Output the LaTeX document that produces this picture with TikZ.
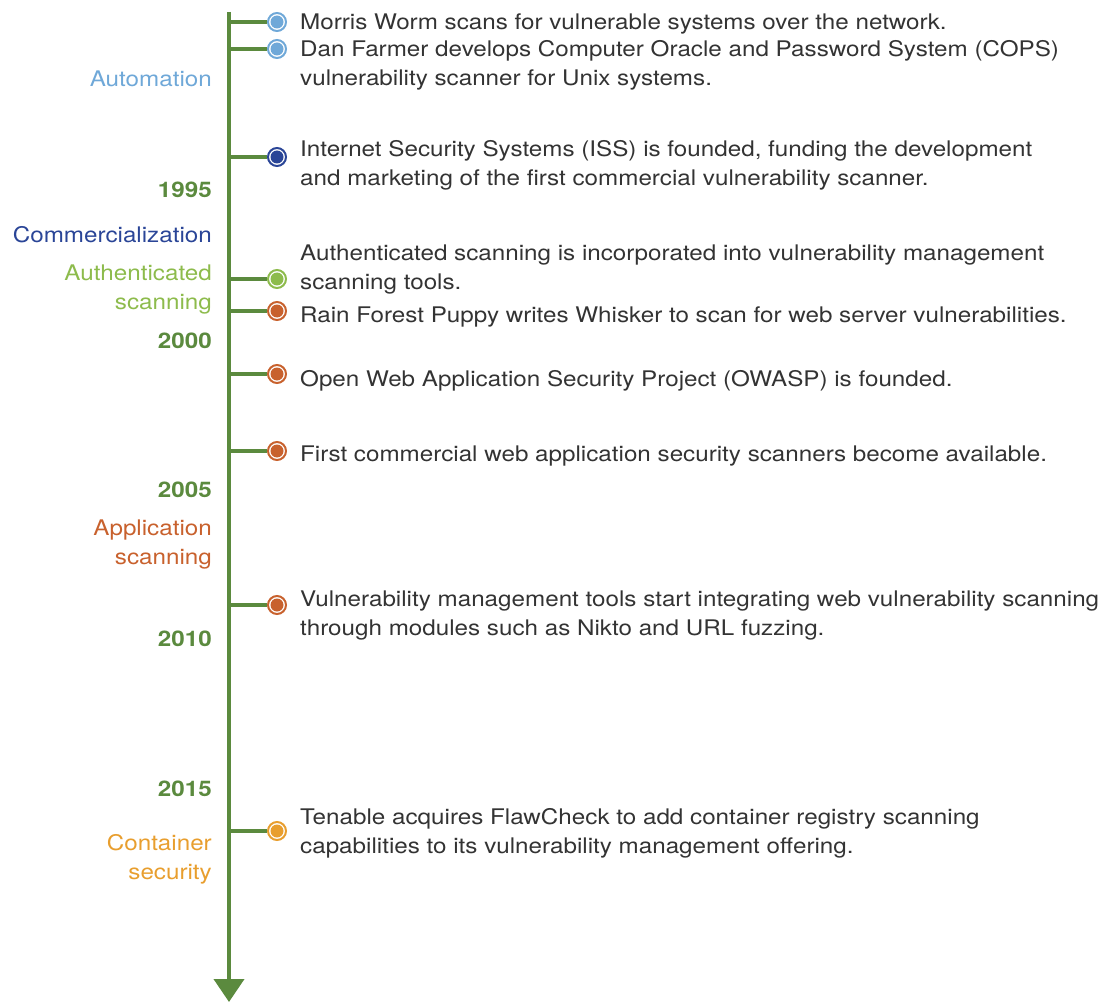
\documentclass[tikz,border=0pt]{standalone}
\usepackage{fontspec}
\setmainfont[FakeStretch=1.126]{TeX Gyre Heros}
\usetikzlibrary{arrows.meta}
\definecolor{axisgreen}{HTML}{5B8A3E}
\definecolor{cLB}{HTML}{6FA8D8}
\definecolor{cDB}{HTML}{2A4597}
\definecolor{cLG}{HTML}{8DBB4C}
\definecolor{cOR}{HTML}{C8612D}
\definecolor{cYE}{HTML}{E89E2E}
\definecolor{txt}{HTML}{333333}
\tikzset{
  axisline/.style={line width=4pt, draw=axisgreen, -{Triangle[width=30pt,length=23pt]}},
  branch/.style={line width=4pt, draw=axisgreen},
  marker/.style={circle, draw=#1, line width=2pt, fill=white, minimum size=18pt, inner sep=0pt,
    path picture={\fill[#1] (path picture bounding box.center) circle (6.5pt);}},
  evtext/.style={anchor=base west, inner sep=0pt, text=txt, font=\fontsize{21.5}{29}\selectfont},
  lbl/.style={anchor=base east, inner sep=0pt, text=#1, font=\fontsize{21.5}{29}\selectfont},
  yr/.style={anchor=base east, inner sep=0pt, text=axisgreen, font=\bfseries\fontsize{21.5}{29}\selectfont},
}
\begin{document}
\begin{tikzpicture}[x=1pt,y=-1pt]
\useasboundingbox (0,0) rectangle (1109,1003);
\coordinate (top) at (229,12);
\coordinate (bot) at (229,1002);
\draw[axisline] (top) -- (bot);
% markers
\node[marker=cLB] (m1) at (277,22) {};
\node[marker=cLB] (m2) at (277,49) {};
\node[marker=cDB] (m3) at (277,157) {};
\node[marker=cLG] (m4) at (277,279) {};
\node[marker=cOR] (m5) at (277,311) {};
\node[marker=cOR] (m6) at (277,374) {};
\node[marker=cOR] (m7) at (277,451) {};
\node[marker=cOR] (m8) at (277,605) {};
\node[marker=cYE] (m9) at (277,831) {};
% branch start points
\foreach \i/\y in {1/22,2/49,3/157,4/279,5/311,6/374,7/451,8/605,9/831}{
  \coordinate (b\i) at (227,\y);
  \draw[branch] (b\i) -- (m\i.west);
}
% event texts
\node[evtext] (e1) at (300,30) {Morris Worm scans for vulnerable systems over the network.};
\node[evtext] (e2) at (300,57) {Dan Farmer develops Computer Oracle and Password System (COPS)};
\node[evtext] (e2b) at (300,86) {vulnerability scanner for Unix systems.};
\node[evtext] (e3) at (300,157) {Internet Security Systems (ISS) is founded, funding the development};
\node[evtext] (e3b) at (300,186) {and marketing of the first commercial vulnerability scanner.};
\node[evtext] (e4) at (300,261) {Authenticated scanning is incorporated into vulnerability management};
\node[evtext] (e4b) at (300,290) {scanning tools.};
\node[evtext] (e5) at (300,322) {Rain Forest Puppy writes Whisker to scan for web server vulnerabilities.};
\node[evtext] (e6) at (300,386) {Open Web Application Security Project (OWASP) is founded.};
\node[evtext] (e7) at (300,461) {First commercial web application security scanners become available.};
\node[evtext] (e8) at (300,606) {Vulnerability management tools start integrating web vulnerability scanning};
\node[evtext] (e8b) at (300,635) {through modules such as Nikto and URL fuzzing.};
\node[evtext] (e9) at (300,824) {Tenable acquires FlawCheck to add container registry scanning};
\node[evtext] (e9b) at (300,853) {capabilities to its vulnerability management offering.};
% left labels
\node[lbl=cLB] (l1) at (212,87) {Automation};
\node[yr] (y1) at (212,198) {1995};
\node[lbl=cDB] (l2) at (212,243) {Commercialization};
\node[lbl=cLG] (l3) at (212,280) {Authenticated};
\node[lbl=cLG] (l3b) at (212,309) {scanning};
\node[yr] (y2) at (212,348) {2000};
\node[yr] (y3) at (212,497) {2005};
\node[lbl=cOR] (l4) at (212,535) {Application};
\node[lbl=cOR] (l4b) at (212,564) {scanning};
\node[yr] (y4) at (212,646) {2010};
\node[yr] (y5) at (212,796) {2015};
\node[lbl=cYE] (l5) at (212,850) {Container};
\node[lbl=cYE] (l5b) at (212,879) {security};
\end{tikzpicture}
\end{document}
